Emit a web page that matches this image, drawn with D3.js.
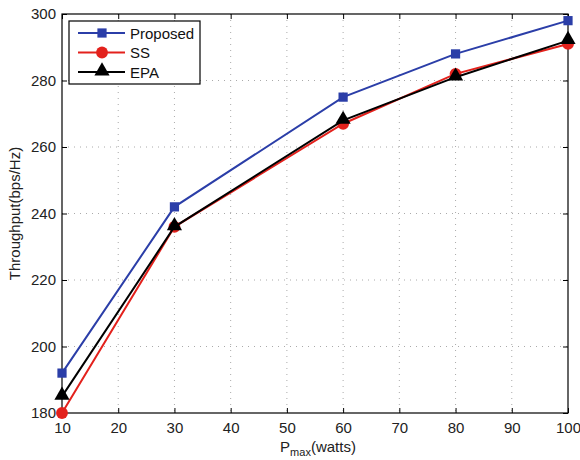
<!DOCTYPE html>
<html>
<head>
<meta charset="utf-8">
<script src="https://cdn.jsdelivr.net/npm/d3@7"></script>
<style>
  body { margin: 0; background: #fff; }
  text { font-family: "Liberation Sans", Arial, sans-serif; }
</style>
</head>
<body>
<svg id="chart" width="580" height="460"></svg>
<script>
var pmax = [10, 30, 60, 80, 100];
var proposed = [192, 242, 275, 288, 298];
var ss = [180, 236, 267, 282, 291];
var epa = [185, 236, 268, 281, 292];
var xTicks = [10, 20, 30, 40, 50, 60, 70, 80, 90, 100];
var yTicks = [180, 200, 220, 240, 260, 280, 300];

var margin = {top: 14, right: 12, bottom: 47, left: 62},
  width = 580 - margin.left - margin.right,
  height = 460 - margin.top - margin.bottom;

var svg = d3.select("#chart")
  .append("g")
  .attr("transform", "translate(" + margin.left + "," + margin.top + ")");

var x = d3.scaleLinear().domain([10, 100]).range([0, width]);
var y = d3.scaleLinear().domain([180, 300]).range([height, 0]);

// dotted grid
svg.append("g").selectAll("line").data(xTicks.slice(1, -1)).join("line")
  .attr("x1", d => x(d)).attr("x2", d => x(d))
  .attr("y1", 0).attr("y2", height)
  .attr("stroke", "#aaa").attr("stroke-dasharray", "1,5");
svg.append("g").selectAll("line").data(yTicks.slice(1, -1)).join("line")
  .attr("y1", d => y(d)).attr("y2", d => y(d))
  .attr("x1", 0).attr("x2", width)
  .attr("stroke", "#aaa").attr("stroke-dasharray", "1,5");

// axes with inward ticks
function styleAxis(g) {
  g.select(".domain").remove();
  g.selectAll(".tick line").attr("stroke", "#000");
  g.selectAll(".tick text").attr("font-size", 15).attr("fill", "#222");
}
svg.append("g").attr("transform", "translate(0," + height + ")")
  .call(d3.axisBottom(x).tickValues(xTicks).tickSizeInner(-5).tickSizeOuter(0).tickPadding(9))
  .call(styleAxis);
svg.append("g")
  .call(d3.axisTop(x).tickValues(xTicks).tickSizeInner(-5).tickSizeOuter(0).tickFormat(""))
  .call(styleAxis);
svg.append("g")
  .call(d3.axisLeft(y).tickValues(yTicks).tickSizeInner(-5).tickSizeOuter(0).tickPadding(6))
  .call(styleAxis);
svg.append("g").attr("transform", "translate(" + width + ",0)")
  .call(d3.axisRight(y).tickValues(yTicks).tickSizeInner(-5).tickSizeOuter(0).tickFormat(""))
  .call(styleAxis);

svg.append("rect").attr("width", width).attr("height", height)
  .attr("fill", "none").attr("stroke", "#000").attr("stroke-width", 1.2);

var series = [
  {name: "Proposed", values: proposed, color: "#2b3ea8", marker: "square"},
  {name: "SS", values: ss, color: "#e3211c", marker: "circle"},
  {name: "EPA", values: epa, color: "#000", marker: "triangle"}
];

function drawMarker(g, type, color, cx, cy) {
  var sym = type === "square" ? d3.symbolSquare : type === "circle" ? d3.symbolCircle : d3.symbolTriangle;
  var size = type === "square" ? 85 : type === "circle" ? 110 : 100;
  g.append("path")
    .attr("d", d3.symbol().type(sym).size(size)())
    .attr("transform", "translate(" + cx + "," + (cy + (type === "triangle" ? -1 : 0)) + ")")
    .attr("fill", color);
}

var line = d3.line().x((d, i) => x(pmax[i])).y(d => y(d));
var plot = svg.append("g");
series.forEach(function(s) {
  plot.append("path").datum(s.values)
    .attr("fill", "none").attr("stroke", s.color).attr("stroke-width", 2)
    .attr("d", line);
  s.values.forEach(function(v, i) { drawMarker(plot, s.marker, s.color, x(pmax[i]), y(v)); });
});

// legend
var leg = svg.append("g").attr("transform", "translate(7,7)");
leg.append("rect").attr("width", 131).attr("height", 63)
  .attr("fill", "#fff").attr("stroke", "#000").attr("stroke-width", 1.2);
series.forEach(function(s, i) {
  var ly = 12 + i * 19.5;
  leg.append("line").attr("x1", 9).attr("x2", 56).attr("y1", ly).attr("y2", ly)
    .attr("stroke", s.color).attr("stroke-width", 2);
  drawMarker(leg, s.marker, s.color, 33, ly);
  leg.append("text").attr("x", 61).attr("y", ly + 5.5)
    .attr("font-size", 15).attr("fill", "#111").text(s.name);
});

// axis labels
var xl = d3.select("#chart").append("text")
  .attr("x", margin.left + width / 2 + 3).attr("y", 452)
  .attr("text-anchor", "middle").attr("font-size", 15).attr("fill", "#222");
xl.append("tspan").text("P");
xl.append("tspan").attr("font-size", 11).attr("dy", 4).text("max");
xl.append("tspan").attr("dy", -4).text("(watts)");

d3.select("#chart").append("text")
  .attr("transform", "translate(20," + (margin.top + height / 2) + ") rotate(-90)")
  .attr("text-anchor", "middle").attr("font-size", 15).attr("fill", "#222")
  .text("Throughput(bps/Hz)");
</script>
</body>
</html>
